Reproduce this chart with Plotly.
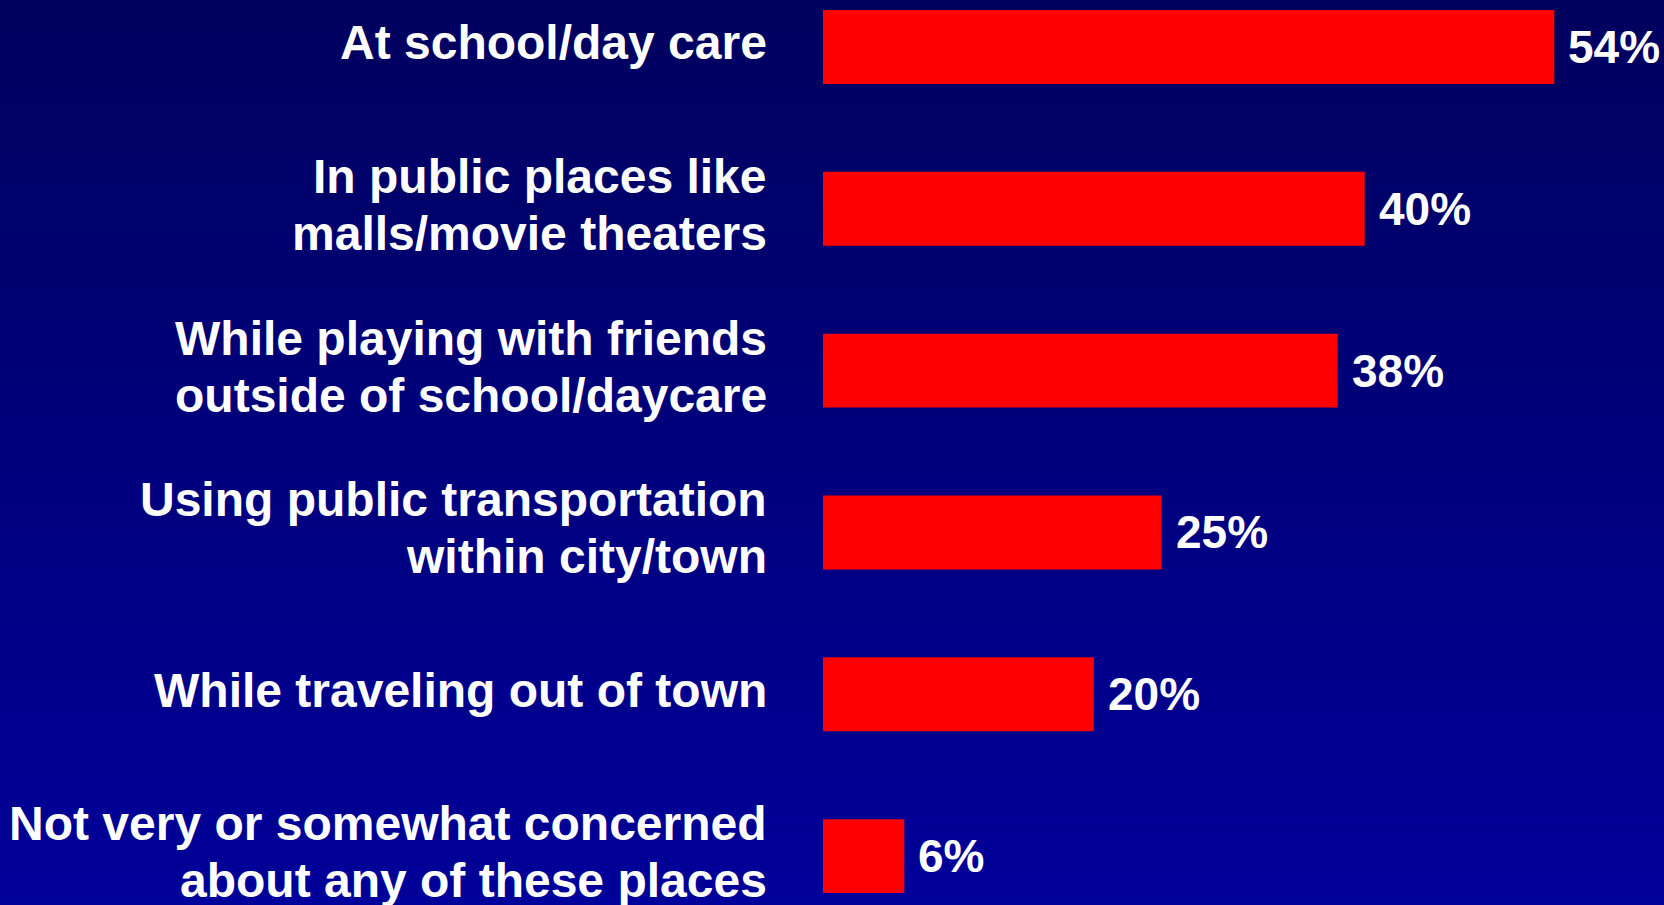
import plotly.graph_objects as go

# survey answers, top to bottom
places = ['At school/day care',
          'In public places like<br>malls/movie theaters',
          'While playing with friends<br>outside of school/daycare',
          'Using public transportation<br>within city/town',
          'While traveling out of town',
          'Not very or somewhat concerned<br>about any of these places']
pct = [54, 40, 38, 25, 20, 6]

FONT = 'Liberation Sans, Arial, sans-serif'
TOP, BOTTOM = (0, 0, 94), (0, 0, 154)  # background gradient colours

fig = go.Figure(go.Bar(
    x=pct,
    y=places,
    orientation='h',
    width=0.457,
    marker=dict(color='#ff0000', line=dict(width=0)),
    hoverinfo='skip',
))

annotations = []
# value labels to the right of each bar
for p, v in zip(places, pct):
    annotations.append(dict(
        x=v, y=p, xref='x', yref='y', text=f'<b>{v}%</b>',
        showarrow=False, xanchor='left', yanchor='middle', xshift=12,
        font=dict(family=FONT, size=46, color='white')))

# category labels, one annotation per line so the line spacing can be tight
line_gap = 57
for p in places:
    lines = p.split('<br>')
    n = len(lines)
    for i, ln in enumerate(lines):
        annotations.append(dict(
            x=0, y=p, xref='paper', yref='y', text=f'<b>{ln}</b>',
            showarrow=False, xanchor='right', yanchor='middle', xshift=-54,
            yshift=-((i - (n - 1) / 2) * line_gap) + 4,
            font=dict(family=FONT, size=48, color='white')))

# vertical gradient for the background
shapes = []
bands = 90
for k in range(bands):
    t = k / (bands - 1)
    c = tuple(round(a + (b - a) * t) for a, b in zip(TOP, BOTTOM))
    shapes.append(dict(
        type='rect', xref='paper', yref='paper',
        x0=-2, x1=2, y0=1 - (k + 1) / bands, y1=1 - k / bands,
        fillcolor=f'rgb{c}', line=dict(width=0), layer='below'))

fig.update_layout(
    width=1664, height=905,
    margin=dict(l=823, r=0, t=0, b=0),
    paper_bgcolor='rgb(0,0,120)',
    plot_bgcolor='rgba(0,0,0,0)',
    showlegend=False,
    xaxis=dict(range=[0, 62.1], visible=False, fixedrange=True),
    yaxis=dict(range=[5.302, -0.29], visible=False, fixedrange=True),
    annotations=annotations,
    shapes=shapes,
)

fig.write_html('out.html', config={'displayModeBar': False},
               post_script="document.body.style.margin='0';document.body.style.overflow='hidden';")
